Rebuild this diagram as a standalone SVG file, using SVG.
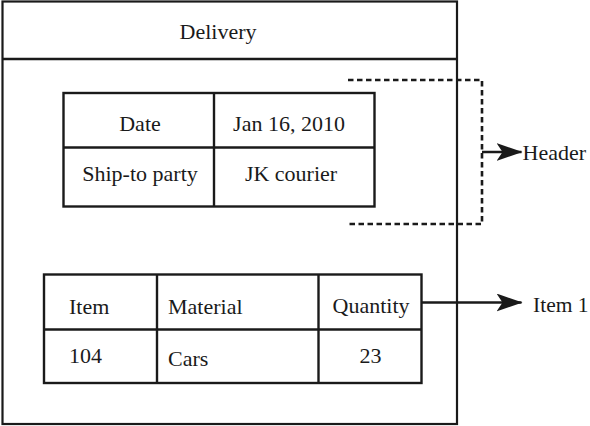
<svg xmlns="http://www.w3.org/2000/svg" width="590" height="426" viewBox="0 0 590 426" font-family="'Liberation Serif', 'Times New Roman', Times, serif" font-size="22">
<style>
.box{fill:#fff;stroke:#1a1a1a;stroke-width:2.2}
.ln{fill:none;stroke:#1a1a1a;stroke-width:2.4}
.dash{fill:none;stroke:#1a1a1a;stroke-width:2.6;stroke-dasharray:5.5 3.5}
text{fill:#1a1a1a}
.c{text-anchor:middle}
</style>
<defs>
<marker id="ah" markerUnits="userSpaceOnUse" viewBox="0 0 26 18" refX="25" refY="9" markerWidth="26" markerHeight="18" orient="auto">
<path d="M0,0 L26,9 L0,18 L6,9 Z" fill="#1a1a1a"/>
</marker>
</defs>
<rect width="590" height="426" fill="#fff"/>
<g id="delivery">
<rect class="box" x="2.5" y="1.5" width="454.5" height="422.5"/>
<line class="ln" x1="2.5" y1="59" x2="457" y2="59"/>
<text class="c" x="218" y="39">Delivery</text>
</g>
<g id="header-table">
<rect class="ln" x="63.5" y="93" width="311" height="113.5"/>
<line class="ln" x1="63.5" y1="147.5" x2="374.5" y2="147.5"/>
<line class="ln" x1="214" y1="93" x2="214" y2="206.5"/>
<text class="c" x="140" y="131">Date</text>
<text class="c" x="289" y="131">Jan 16, 2010</text>
<text class="c" x="140" y="181">Ship-to party</text>
<text class="c" x="291" y="181">JK courier</text>
</g>
<g id="item-table">
<rect class="ln" x="44" y="274.5" width="377.5" height="108.5"/>
<line class="ln" x1="44" y1="329.5" x2="421.5" y2="329.5"/>
<line class="ln" x1="157" y1="274.5" x2="157" y2="383"/>
<line class="ln" x1="318.5" y1="274.5" x2="318.5" y2="383"/>
<text x="69" y="314">Item</text>
<text x="168" y="314">Material</text>
<text class="c" x="371" y="313">Quantity</text>
<text x="69" y="363">104</text>
<text x="168" y="366">Cars</text>
<text class="c" x="370.5" y="363">23</text>
</g>
<g id="header-bracket">
<path class="dash" d="M348,80 H482 V224 H348"/>
</g>
<g id="header-label">
<text x="522.5" y="160">Header</text>
</g>
<g id="item1-label">
<text x="533" y="312" font-size="21.5">Item 1</text>
</g>
<g id="connectors">
<line class="ln" x1="482" y1="152" x2="521.5" y2="152" marker-end="url(#ah)"/>
<line class="ln" x1="421.5" y1="302.5" x2="521.5" y2="302.5" marker-end="url(#ah)"/>
</g>
</svg>
